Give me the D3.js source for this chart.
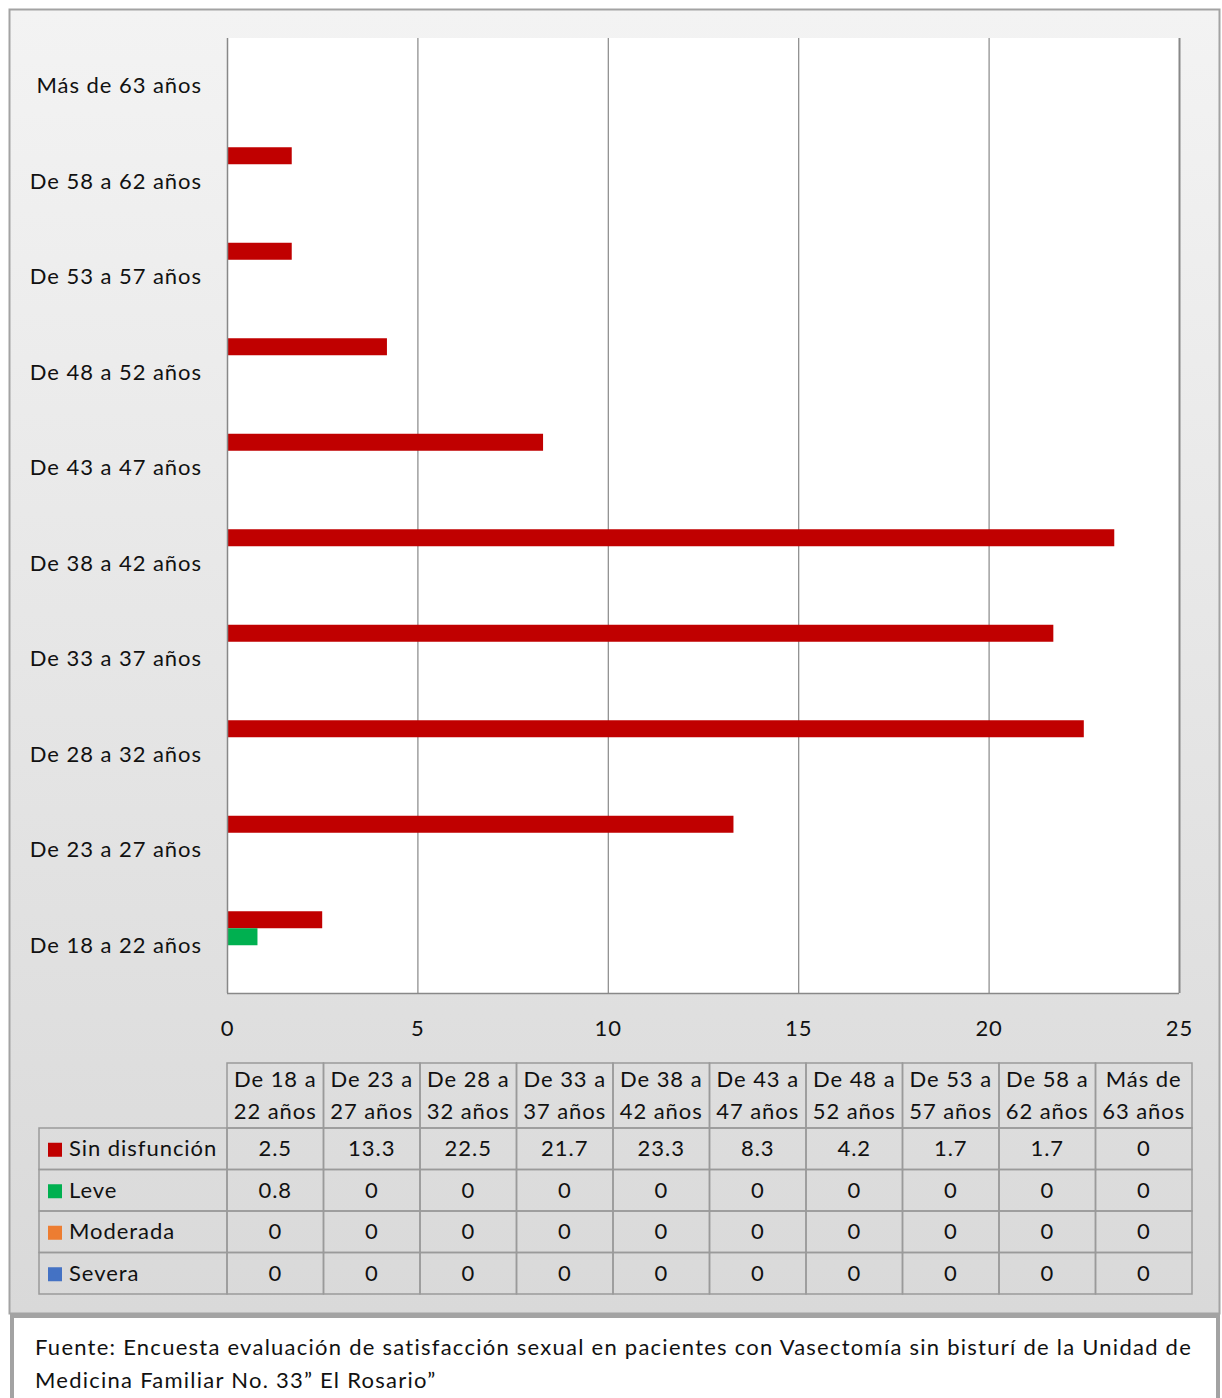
<!DOCTYPE html>
<html>
<head>
<meta charset="utf-8">
<script src="https://cdn.jsdelivr.net/npm/d3@7"></script>
<style>
  html, body { margin: 0; padding: 0; background: #ffffff; }
  svg text { font-family: Lato, "Noto Sans", sans-serif; fill: #111; letter-spacing: 0.95px; }
</style>
</head>
<body>
<svg id="chart" width="1222" height="1398"></svg>
<script>
// Age groups, listed from youngest (bottom of the plot) to oldest (top)
const categories = [
  "De 18 a 22 años", "De 23 a 27 años", "De 28 a 32 años", "De 33 a 37 años",
  "De 38 a 42 años", "De 43 a 47 años", "De 48 a 52 años", "De 53 a 57 años",
  "De 58 a 62 años", "Más de 63 años"
];
// Two-line column headings of the data table
const tableHeaders = [
  ["De 18 a", "22 años"], ["De 23 a", "27 años"], ["De 28 a", "32 años"],
  ["De 33 a", "37 años"], ["De 38 a", "42 años"], ["De 43 a", "47 años"],
  ["De 48 a", "52 años"], ["De 53 a", "57 años"], ["De 58 a", "62 años"],
  ["Más de", "63 años"]
];
const seriesNames = ["Sin disfunción", "Leve", "Moderada", "Severa"];
const seriesColors = ["#c00000", "#00b050", "#ed7d31", "#4472c4"];
const sinDisfuncion = [2.5, 13.3, 22.5, 21.7, 23.3, 8.3, 4.2, 1.7, 1.7, 0];
const leve          = [0.8, 0, 0, 0, 0, 0, 0, 0, 0, 0];
const moderada      = [0, 0, 0, 0, 0, 0, 0, 0, 0, 0];
const severa        = [0, 0, 0, 0, 0, 0, 0, 0, 0, 0];
const xTicks = [0, 5, 10, 15, 20, 25];
const footnoteLines = [
  "Fuente: Encuesta evaluación de satisfacción sexual en pacientes con Vasectomía sin bisturí de la Unidad de",
  "Medicina Familiar No. 33” El Rosario”"
];

const seriesValues = [sinDisfuncion, leve, moderada, severa];
const series = seriesNames.map((name, i) => ({ name, color: seriesColors[i], values: seriesValues[i] }));

const svg = d3.select("#chart");
const defs = svg.append("defs");
const grad = defs.append("linearGradient").attr("id", "bg").attr("x1", 0).attr("y1", 0).attr("x2", 0).attr("y2", 1);
grad.append("stop").attr("offset", "0%").attr("stop-color", "#f3f3f3");
grad.append("stop").attr("offset", "100%").attr("stop-color", "#d9d9d9");

// Chart frame
svg.append("rect")
  .attr("x", 9.5).attr("y", 9.5).attr("width", 1210).attr("height", 1304)
  .attr("fill", "url(#bg)").attr("stroke", "#a3a3a3").attr("stroke-width", 2);

// Plot area
const plot = { left: 227, right: 1179, top: 38, bottom: 993 };
svg.append("rect")
  .attr("x", plot.left).attr("y", plot.top)
  .attr("width", plot.right - plot.left).attr("height", plot.bottom - plot.top)
  .attr("fill", "#ffffff");

const x = d3.scaleLinear().domain([0, 25]).range([plot.left, plot.right]);
const y = d3.scaleBand().domain(categories).range([plot.bottom, plot.top])
  .paddingInner(0.288).paddingOuter(0.144);
const ySub = d3.scaleBand().domain(seriesNames).range([0, y.bandwidth()]);

// Vertical gridlines
svg.append("g").selectAll("line").data(xTicks.filter(t => t > 0)).join("line")
  .attr("x1", d => x(d) + 0.5).attr("x2", d => x(d) + 0.5)
  .attr("y1", plot.top).attr("y2", plot.bottom)
  .attr("stroke", "#888").attr("stroke-width", d => d === 25 ? 2 : 1.2);

// Bars
const groups = svg.append("g").selectAll("g").data(categories).join("g")
  .attr("transform", d => `translate(0,${y(d)})`);
groups.selectAll("rect")
  .data((c, ci) => series.map(s => ({ s, v: s.values[ci] })))
  .join("rect")
  .attr("x", x(0))
  .attr("y", d => ySub(d.s.name))
  .attr("width", d => x(d.v) - x(0))
  .attr("height", ySub.bandwidth())
  .attr("fill", d => d.s.color);

// Axes lines
svg.append("line").attr("x1", plot.left + 0.5).attr("x2", plot.left + 0.5)
  .attr("y1", plot.top).attr("y2", plot.bottom).attr("stroke", "#888").attr("stroke-width", 1.5);
svg.append("line").attr("x1", plot.left).attr("x2", plot.right)
  .attr("y1", plot.bottom + 0.5).attr("y2", plot.bottom + 0.5).attr("stroke", "#888").attr("stroke-width", 1.5);

// X axis labels
const xAxis = d3.axisBottom(x).tickValues(xTicks).tickSize(0).tickPadding(0);
const xg = svg.append("g").attr("transform", `translate(0,${plot.bottom})`).call(xAxis);
xg.select(".domain").remove();
xg.selectAll("text").attr("y", 43).attr("dy", null)
  .style("font-size", "22px").style("font-family", "Lato, 'Noto Sans', sans-serif").attr("fill", "#111");

// Category labels
const yAxis = d3.axisLeft(y).tickSize(0).tickPadding(0);
const yg = svg.append("g").attr("transform", `translate(202,0)`).call(yAxis);
yg.select(".domain").remove();
yg.selectAll("text").attr("x", 0).attr("dy", "0.35em")
  .style("font-size", "22px").style("font-family", "Lato, 'Noto Sans', sans-serif").attr("fill", "#111");

// Data table
const table = { left: 39, colStart: 227, colEnd: 1192, headTop: 1063, headBottom: 1128, bottom: 1294 };
const col = d3.scaleBand().domain(categories).range([table.colStart, table.colEnd]);
const row = d3.scaleBand().domain(seriesNames).range([table.headBottom, table.bottom]);
const tg = svg.append("g");
const gridColor = "#9a9a9a";

// Header cells
tg.selectAll("rect.head").data(categories).join("rect").attr("class", "head")
  .attr("x", d => col(d)).attr("y", table.headTop)
  .attr("width", col.bandwidth()).attr("height", table.headBottom - table.headTop)
  .attr("fill", "none").attr("stroke", gridColor).attr("stroke-width", 1.5);
tg.selectAll("text.head").data(categories).join("text").attr("class", "head")
  .attr("x", d => col(d) + col.bandwidth() / 2)
  .attr("text-anchor", "middle")
  .style("font-size", "22px")
  .each(function(d, i) {
    d3.select(this).selectAll("tspan").data(tableHeaders[i]).join("tspan")
      .attr("x", col(d) + col.bandwidth() / 2)
      .attr("y", (t, j) => table.headTop + 24 + j * 32)
      .text(t => t);
  });

// Legend column and value cells
series.forEach(s => {
  const ry = row(s.name);
  tg.append("rect").attr("x", table.left).attr("y", ry)
    .attr("width", table.colStart - table.left).attr("height", row.bandwidth())
    .attr("fill", "none").attr("stroke", gridColor).attr("stroke-width", 1.5);
  tg.append("rect").attr("x", 48).attr("y", ry + row.bandwidth() / 2 - 6)
    .attr("width", 14).attr("height", 14).attr("fill", s.color);
  tg.append("text").attr("x", 69).attr("y", ry + row.bandwidth() / 2)
    .attr("dy", "0.35em").style("font-size", "22px").text(s.name);
  categories.forEach((c, ci) => {
    tg.append("rect").attr("x", col(c)).attr("y", ry)
      .attr("width", col.bandwidth()).attr("height", row.bandwidth())
      .attr("fill", "none").attr("stroke", gridColor).attr("stroke-width", 1.5);
    tg.append("text").attr("x", col(c) + col.bandwidth() / 2).attr("y", ry + row.bandwidth() / 2)
      .attr("dy", "0.35em").attr("text-anchor", "middle").style("font-size", "22px")
      .text(s.values[ci]);
  });
});

// Source note box
svg.append("rect").attr("x", 12).attr("y", 1316).attr("width", 1206).attr("height", 100)
  .attr("fill", "#ffffff").attr("stroke", "#a3a3a3").attr("stroke-width", 4);
svg.append("g").selectAll("text").data(footnoteLines).join("text")
  .attr("x", 35).attr("y", (d, i) => 1355 + i * 33)
  .style("font-size", "22px").style("letter-spacing", "1.25px").text(d => d);
</script>
</body>
</html>
